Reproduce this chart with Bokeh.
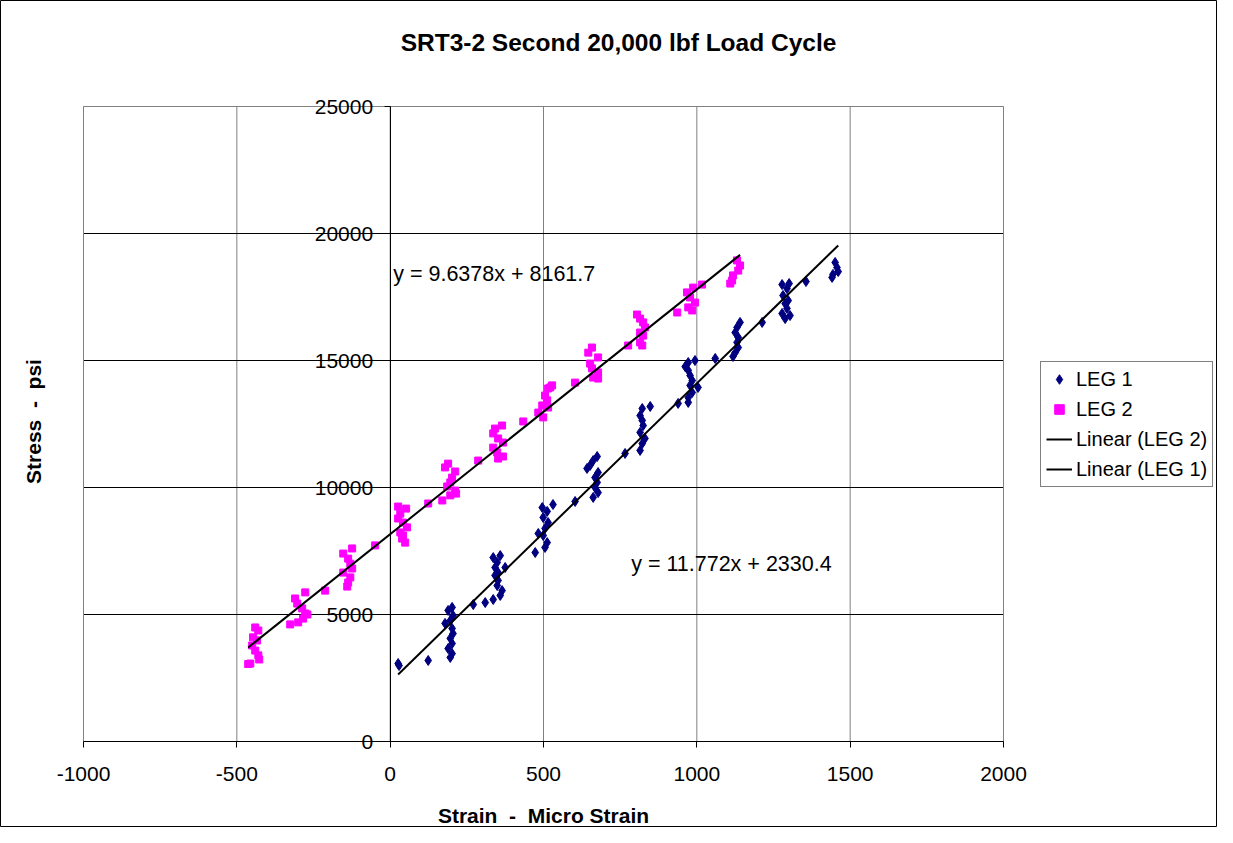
from bokeh.plotting import figure
from bokeh.models import (Range1d, FixedTicker, NumeralTickFormatter,
                          Legend, LegendItem, Label, ColumnDataSource)
from bokeh.embed import file_html
from bokeh.resources import INLINE
import math

# ---------------- data ----------------
leg1_strain = [26, 29, 124,
               202, 189, 205, 196, 179, 202, 205, 196, 202, 189, 202, 196,
               271, 310, 336,
               336, 359, 349, 342, 352, 342, 352, 349, 365, 359, 375,
               473,
               496, 531, 512, 499, 515, 505, 499, 512, 505, 483,
               603,
               675, 662, 652, 642, 678, 668, 675, 668, 678, 662,
               766,
               848, 822, 815, 822, 825, 815, 831, 822, 815,
               939,
               994, 972, 962, 972, 978, 985, 978, 1004, 985, 972, 972,
               1060,
               1141, 1131, 1125, 1135, 1131, 1135, 1125, 1118,
               1213,
               1278, 1301, 1294, 1281, 1298, 1288, 1294, 1278, 1304, 1288,
               1356,
               1451, 1457, 1461, 1444, 1441]
leg1_stress = [3070, 2990, 3190,
               5280, 5160, 4960, 4760, 4650, 4450, 4250, 4060, 3860, 3660, 3460, 3310,
               5390, 5470, 5590,
               7240, 7320, 7050, 6850, 6650, 6540, 6340, 6140, 5940, 5750, 6850,
               7440,
               9210, 9330, 9060, 8820, 8620, 8390, 8110, 7830, 7640, 8190,
               9450,
               11220, 11060, 10870, 10750, 10590, 10390, 10200, 10000, 9800, 9610,
               11340,
               13190, 13110, 12830, 12640, 12440, 12170, 11930, 11730, 11460,
               13310,
               15000, 14920, 14760, 14610, 14410, 14210, 14020, 13940, 13740, 13540, 13350,
               15080,
               16500, 16300, 16100, 15910, 15710, 15510, 15310, 15160,
               16500,
               17990, 18030, 17830, 17560, 17360, 17240, 17050, 16850, 16770, 16650,
               18110,
               18860, 18660, 18500, 18390, 18270]

leg2_strain = [-440, -430, -447, -434, -450, -440, -430, -427, -456, -463,
               -277, -310, -303, -287, -277, -284, -300, -326, -270,
               -212,
               -124, -153, -137, -130, -124, -153, -130, -137, -140,
               -49,
               26, 52, 33, 26, 42, 55, 33, 42, 49, 39,
               124, 170,
               189, 179, 212, 202, 196, 186, 212, 196, 215,
               287,
               365, 342, 336, 352, 368, 336, 349, 368, 352,
               434,
               528, 515, 505, 512, 496, 515, 483, 499, 522,
               603,
               658, 646, 678, 652, 658, 678, 662, 678,
               776,
               805, 815, 825, 831, 815, 825, 815, 822,
               936,
               1017, 988, 968, 978, 994, 972, 985,
               1131, 1141, 1135, 1118, 1115, 1109]
leg2_stress = [4490, 4370, 4100, 3980, 3780, 3580, 3390, 3230, 3070, 3050,
               5870, 5630, 5430, 5240, 5040, 4840, 4690, 4610, 5000,
               5940,
               7600, 7400, 7200, 7000, 6810, 6650, 6460, 6260, 6100,
               7720,
               9250, 9170, 8970, 8780, 8620, 8430, 8230, 8110, 7830, 7990,
               9370, 9490,
               10940, 10790, 10630, 10390, 10200, 10040, 9880, 9690, 9760,
               11060,
               12440, 12320, 12130, 11930, 11770, 11570, 11380, 11220, 11140,
               12600,
               14020, 13900, 13620, 13430, 13230, 13150, 12950, 12760, 13940,
               14130,
               15510, 15310, 15120, 14880, 14690, 14530, 14330, 14290,
               15590,
               16810, 16650, 16500, 16300, 16100, 15980, 15710, 15590,
               16890,
               17990, 17870, 17680, 17480, 17280, 17090, 16970,
               18940, 18740, 18540, 18350, 18150, 18030]

# trend line coefficients (slope, intercept) as printed on the chart
fit1_slope, fit1_intercept = 11.772, 2330.4
fit2_slope, fit2_intercept = 9.6378, 8161.7
fit1_label = "y = 11.772x + 2330.4"
fit2_label = "y = 9.6378x + 8161.7"

x_ticks = [-1000, -500, 0, 500, 1000, 1500, 2000]
y_ticks = [0, 5000, 10000, 15000, 20000, 25000]
x_min, x_max = -1000, 2000
y_min, y_max = 0, 25000

title_text = "SRT3-2 Second 20,000 lbf Load Cycle"
x_label = "Strain \u00a0-\u00a0 Micro Strain"
y_label = "Stress \u00a0-\u00a0 psi"

FONT = "Liberation Sans"
NAVY = "#000080"
MAGENTA = "#FF00FF"
GRID_GRAY = "#808080"

# ---------------- layout (pixels) ----------------
W, H = 1217, 827
PL, PR, PT, PB = 83, 1003, 106, 741          # plot-area edges in canvas pixels
sx = (PR - PL) / (x_max - x_min)
sy = (PB - PT) / (y_max - y_min)
xr = Range1d(x_min - PL / sx, x_max + (W - PR) / sx)
yr = Range1d(y_min - (H - PB) / sy, y_max + PT / sy)


def px_x(px):
    return xr.start + px / sx


def px_y(py):
    return yr.end - py / sy


p = figure(width=W, height=H, x_range=xr, y_range=yr,
           output_backend="svg", toolbar_location=None,
           min_border=0, min_border_left=0, min_border_right=0,
           min_border_top=0, min_border_bottom=0,
           background_fill_color="white", border_fill_color="white")
p.outline_line_color = "black"
p.outline_line_width = 1
p.grid.visible = False

# x axis along y = 0
xa = p.xaxis[0]
xa.fixed_location = 0
xa.bounds = (x_min, x_max)
xa.ticker = FixedTicker(ticks=x_ticks)
xa.formatter = NumeralTickFormatter(format="0")
xa.minor_tick_line_color = None
xa.major_tick_in = 0
xa.major_tick_out = 6
xa.axis_line_color = "black"
xa.major_tick_line_color = "black"
xa.major_label_text_font = FONT
xa.major_label_text_font_size = "21px"
xa.major_label_text_color = "black"
xa.major_label_standoff = 19

# y axis crossing at x = 0
ya = p.yaxis[0]
ya.fixed_location = 0
ya.bounds = (y_min, y_max)
ya.ticker = FixedTicker(ticks=y_ticks)
ya.formatter = NumeralTickFormatter(format="0")
ya.minor_tick_line_color = None
ya.major_tick_in = 0
ya.major_tick_out = 6
ya.axis_line_color = "black"
ya.major_tick_line_color = "black"
ya.major_label_text_font = FONT
ya.major_label_text_font_size = "21px"
ya.major_label_text_color = "black"
ya.major_label_standoff = 11

# plot area grid and border
p.segment(x0=x_ticks, x1=x_ticks, y0=[y_min] * len(x_ticks), y1=[y_max] * len(x_ticks),
          line_color=GRID_GRAY, line_width=1)
inner_y = [t for t in y_ticks if y_min < t < y_max]
p.segment(x0=[x_min] * len(inner_y), x1=[x_max] * len(inner_y), y0=inner_y, y1=inner_y,
          line_color="black", line_width=1)
p.quad(left=[x_min], right=[x_max], bottom=[y_min], top=[y_max],
       fill_color=None, line_color=GRID_GRAY, line_width=1)

# ---------------- data glyphs ----------------
src1 = ColumnDataSource(dict(x=leg1_strain, y=leg1_stress))
src2 = ColumnDataSource(dict(x=leg2_strain, y=leg2_stress))

r1 = p.scatter("x", "y", source=src1, marker="diamond",
               size=10, fill_color=NAVY, line_color=NAVY)
r2 = p.scatter("x", "y", source=src2, marker="square", size=7,
               fill_color=MAGENTA, line_color=MAGENTA)

x1 = [min(leg1_strain), max(leg1_strain)]
y1 = [fit1_slope * v + fit1_intercept for v in x1]
x2 = [min(leg2_strain), max(leg2_strain)]
y2 = [fit2_slope * v + fit2_intercept for v in x2]
l2 = p.line(x2, y2, line_color="black", line_width=2)
l1 = p.line(x1, y1, line_color="black", line_width=2)

p.add_layout(Label(x=10, y=18425, text=fit2_label, text_font=FONT,
                   text_font_size="21.5px", text_color="black", text_baseline="middle"))
p.add_layout(Label(x=786, y=6970, text=fit1_label, text_font=FONT,
                   text_font_size="21.5px", text_color="black", text_baseline="middle"))

# ---------------- titles ----------------
p.add_layout(Label(x=px_x(618), y=px_y(42), text=title_text, text_font=FONT,
                   text_font_size="24.5px", text_font_style="bold", text_color="black",
                   text_align="center", text_baseline="middle"))
p.add_layout(Label(x=px_x(543), y=px_y(815), text=x_label, text_font=FONT,
                   text_font_size="21px", text_font_style="bold", text_color="black",
                   text_align="center", text_baseline="middle"))
p.add_layout(Label(x=px_x(33), y=px_y(421), text=y_label, text_font=FONT,
                   text_font_size="21px", text_font_style="bold", text_color="black",
                   text_align="center", text_baseline="middle", angle=math.pi / 2))

# ---------------- legend ----------------
legend = Legend(items=[LegendItem(label="LEG 1", renderers=[r1]),
                       LegendItem(label="LEG 2", renderers=[r2]),
                       LegendItem(label="Linear (LEG 2)", renderers=[l2]),
                       LegendItem(label="Linear (LEG 1)", renderers=[l1])],
                location=(1040, H - 487), margin=0, padding=5, spacing=6,
                glyph_width=26, glyph_height=24, label_standoff=4,
                label_text_font=FONT, label_text_font_size="20px",
                label_text_color="black",
                border_line_color="black", border_line_width=1,
                background_fill_color="white", background_fill_alpha=1.0)
p.add_layout(legend)

open("out.html", "w").write(file_html(p, INLINE))
